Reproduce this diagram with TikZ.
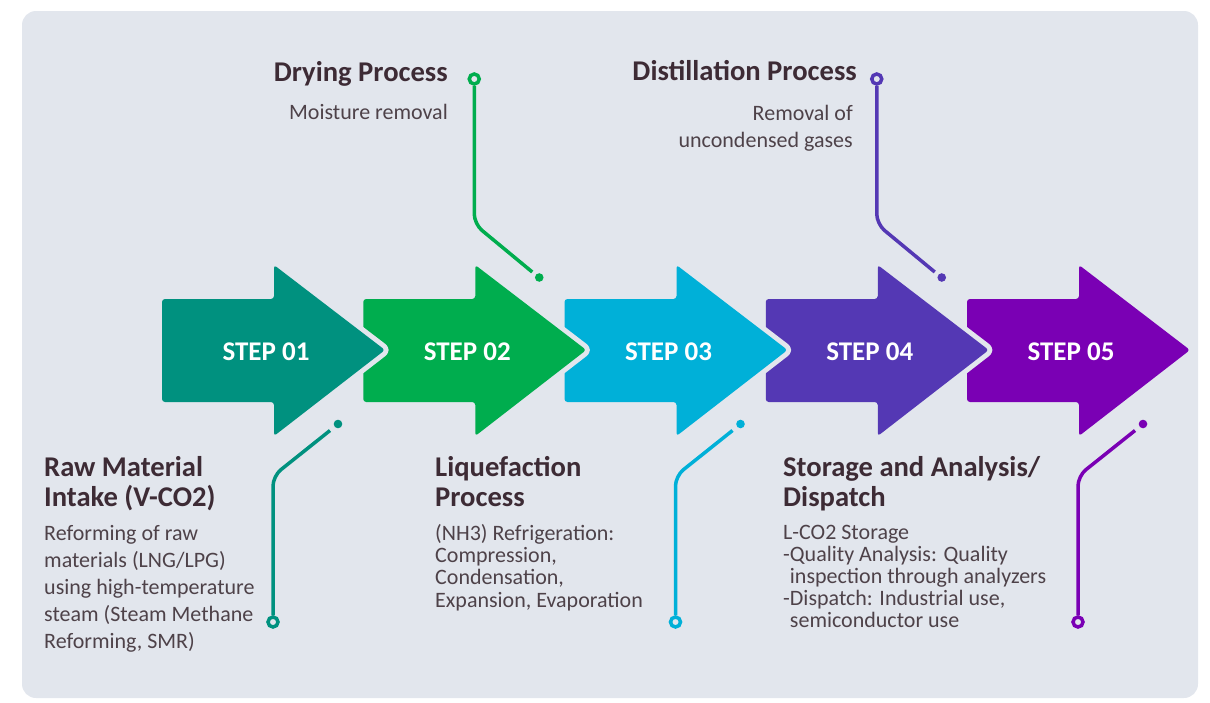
\documentclass[tikz,border=0pt]{standalone}
\usepackage{fontspec}
\setmainfont{Carlito}
\definecolor{bg}{HTML}{E2E6ED}
\definecolor{c1}{HTML}{00917F}
\definecolor{c2}{HTML}{00AD4E}
\definecolor{c3}{HTML}{00B0D8}
\definecolor{c4}{HTML}{5438B4}
\definecolor{c5}{HTML}{7A00B4}
\definecolor{titlec}{HTML}{3D2B35}
\definecolor{bodyc}{HTML}{4E4249}
\begin{document}
\begin{tikzpicture}[x=1pt,y=-1pt,
  titletext/.style={font=\fontsize{28.6}{30}\selectfont\bfseries, text=titlec, inner sep=0pt},
  bodytext/.style={font=\fontsize{22}{27}\selectfont, text=bodyc, inner sep=0pt},
  tightbody/.style={font=\fontsize{22}{22}\selectfont, text=bodyc, inner sep=0pt},
  steptext/.style={font=\fontsize{27}{30}\selectfont\bfseries, text=white, inner sep=0pt},
  ringnode/.style={circle, draw=#1, line width=3.5pt, fill=bg, minimum size=10pt, inner sep=0pt},
  dotnode/.style={circle, fill=#1, minimum size=8.6pt, inner sep=0pt},
  conn/.style={draw=#1, line width=3.5pt, rounded corners=10pt},
  arrowshape/.style={fill=#1, rounded corners=3pt, preaction={draw=bg, line width=10pt, line join=round}},
]
\useasboundingbox (0,0) rectangle (1210,702);
\fill[bg, rounded corners=14pt] (22,11) rectangle (1198,698);

% arrows, drawn from right to left so each cuts a gap in the next
\foreach \s/\c in {967/c5, 765.75/c4, 564.5/c3, 363.25/c2, 162/c1} {
  \path[arrowshape=\c] (\s,299) -- ({\s+112},299) -- ({\s+112},265) -- ({\s+223},350)
      -- ({\s+112},436) -- ({\s+112},402) -- (\s,402) -- cycle;
}
\node[steptext, anchor=base] (s1) at (266,360) {STEP 01};
\node[steptext, anchor=base] (s2) at (467.25,360) {STEP 02};
\node[steptext, anchor=base] (s3) at (668.5,360) {STEP 03};
\node[steptext, anchor=base] (s4) at (869.75,360) {STEP 04};
\node[steptext, anchor=base] (s5) at (1071,360) {STEP 05};

% top connectors (steps 2 and 4)
\node[ringnode=c2] (r2) at (474.25,79) {};
\node[dotnode=c2] (d2) at (539.25,277.5) {};
\coordinate (b2) at (474.25,224);
\coordinate (e2) at (532.25,272);
\draw[conn=c2] (r2) -- (b2) -- (e2);

\node[ringnode=c4] (r4) at (876.75,79) {};
\node[dotnode=c4] (d4) at (941.75,277.5) {};
\coordinate (b4) at (876.75,224);
\coordinate (e4) at (934.75,272);
\draw[conn=c4] (r4) -- (b4) -- (e4);

% bottom connectors (steps 1, 3, 5)
\node[ringnode=c1] (r1) at (273,622) {};
\node[dotnode=c1] (d1) at (338,424) {};
\coordinate (b1) at (273,476);
\coordinate (e1) at (330,430.5);
\draw[conn=c1] (r1) -- (b1) -- (e1);

\node[ringnode=c3] (r3) at (675.5,622) {};
\node[dotnode=c3] (d3) at (740.5,424) {};
\coordinate (b3) at (675.5,476);
\coordinate (e3) at (732.5,430.5);
\draw[conn=c3] (r3) -- (b3) -- (e3);

\node[ringnode=c5] (r5) at (1078,622) {};
\node[dotnode=c5] (d5) at (1143,424) {};
\coordinate (b5) at (1078,476);
\coordinate (e5) at (1135,430.5);
\draw[conn=c5] (r5) -- (b5) -- (e5);

% top texts (anchor = baseline of the last line)
\node[titletext, anchor=base east] (t2) at (448,81) {Drying Process};
\node[bodytext, anchor=base east] (p2) at (448,119) {Moisture removal};
\node[titletext, anchor=base east] (t4) at (857,80) {Distillation Process};
\node[bodytext, align=right, anchor=base east] (p4) at (853,147) {Removal of\\uncondensed gases};

% bottom texts
\node[titletext, align=left, anchor=base west] (t1) at (44,506) {Raw Material\\Intake (V-CO2)};
\node[bodytext, align=left, anchor=base west] (p1) at (44,648) {Reforming of raw\\materials (LNG/LPG)\\using high-temperature\\steam (Steam Methane\\Reforming, SMR)};

\node[titletext, align=left, anchor=base west] (t3) at (435,506) {Liquefaction\\Process};
\node[tightbody, align=left, anchor=base west, font=\fontsize{22}{22.3}\selectfont] (p3) at (435,607) {(NH3) Refrigeration:\\Compression,\\Condensation,\\Expansion, Evaporation};

\node[titletext, align=left, anchor=base west] (t5) at (783,506) {Storage and Analysis/\\Dispatch};
\node[tightbody, align=left, anchor=base west, font=\fontsize{22}{21.8}\selectfont] (p5) at (783,627) {L-CO2 Storage\\-Quality Analysis: Quality\\\phantom{-}inspection through analyzers\\-Dispatch: Industrial use,\\\phantom{-}semiconductor use};
\end{tikzpicture}
\end{document}
